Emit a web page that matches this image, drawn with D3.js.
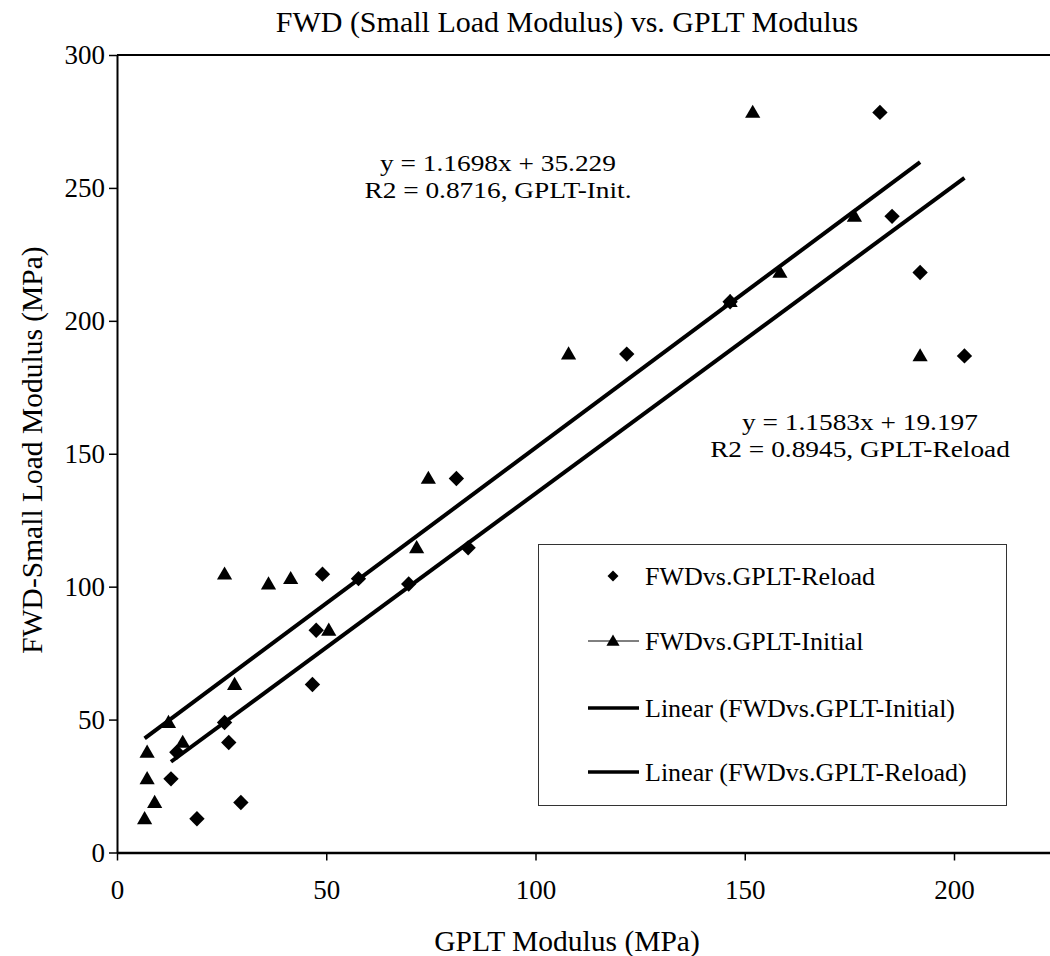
<!DOCTYPE html>
<html>
<head>
<meta charset="utf-8">
<script src="https://cdn.jsdelivr.net/npm/d3@7"></script>
<style>
  body { margin: 0; background: #fff; }
  svg text { font-family: "Liberation Serif", "Times New Roman", serif; fill: #000; }
</style>
</head>
<body>
<svg width="1050" height="956"></svg>
<script>
// FWD small-load modulus (MPa), shared by both series
const fwdValues = [12.7, 18.8, 27.7, 37.7, 41.4, 48.9, 63.2, 83.6, 101.0, 103.0, 104.7, 114.6, 140.7, 186.8, 187.5, 207.2, 218.2, 239.3, 278.4];
// GPLT modulus (MPa), same order as fwdValues
const gpltInitial = [6.6, 9.0, 7.2, 7.2, 15.7, 12.3, 28.1, 50.6, 36.2, 41.5, 25.7, 71.6, 74.4, 191.9, 107.9, 146.5, 158.4, 176.2, 151.9];
const gpltReload  = [19.1, 29.6, 12.9, 14.3, 26.7, 25.7, 46.7, 47.6, 69.7, 57.7, 49.1, 83.9, 81.1, 202.5, 121.8, 146.5, 191.9, 185.2, 182.3];

// trend line coefficients shown on the chart
const fitInitial = {slope: 1.1698, intercept: 35.229};
const fitReload  = {slope: 1.1583, intercept: 19.197};

const xTicks = [0, 50, 100, 150, 200];
const yTicks = [0, 50, 100, 150, 200, 250, 300];

const legendLabels = ["FWDvs.GPLT-Reload", "FWDvs.GPLT-Initial", "Linear (FWDvs.GPLT-Initial)", "Linear (FWDvs.GPLT-Reload)"];

const serif = "Liberation Serif";
const svg = d3.select("svg");

// scales (the plot runs past the right edge of the picture)
const x = d3.scaleLinear().domain([0, 225]).range([117, 117 + 225 * 4.185]);
const y = d3.scaleLinear().domain([0, 300]).range([852.5, 55]);

// title
svg.append("text")
  .attr("x", 567).attr("y", 32)
  .attr("text-anchor", "middle")
  .attr("font-family", serif)
  .style("font-size", "30px")
  .text("FWD (Small Load Modulus) vs. GPLT Modulus");

// top border line at 300
svg.append("line")
  .attr("x1", x(0)).attr("x2", 1050)
  .attr("y1", y(300)).attr("y2", y(300))
  .attr("stroke", "#000").attr("stroke-width", 2);

// x axis
const xAxis = svg.append("g")
  .attr("transform", `translate(0,${y(0)})`)
  .call(d3.axisBottom(x).tickValues(xTicks).tickSize(8).tickSizeOuter(0).tickPadding(19));
xAxis.select(".domain").attr("stroke-width", 2.5);
xAxis.selectAll(".tick line").attr("stroke-width", 1.5);
xAxis.selectAll("text").attr("font-family", serif).style("font-size", "27px");

// y axis
const yAxis = svg.append("g")
  .attr("transform", `translate(${x(0)},0)`)
  .call(d3.axisLeft(y).tickValues(yTicks).tickSize(8).tickSizeOuter(0).tickPadding(4));
yAxis.select(".domain").attr("stroke-width", 2);
yAxis.selectAll(".tick line").attr("stroke-width", 1.5);
yAxis.selectAll("text").attr("font-family", serif).style("font-size", "27px");

// axis titles
svg.append("text")
  .attr("x", 567).attr("y", 951)
  .attr("text-anchor", "middle")
  .attr("font-family", serif)
  .style("font-size", "29.5px")
  .text("GPLT Modulus (MPa)");

svg.append("text")
  .attr("transform", `translate(42,450) rotate(-90)`)
  .attr("text-anchor", "middle")
  .attr("font-family", serif)
  .style("font-size", "29.5px")
  .text("FWD-Small Load Modulus (MPa)");

// markers
const diamond = d3.symbol(d3.symbolSquare, 118);
const triangle = d3.symbol(d3.symbolTriangle, 100);

const reloadPts = gpltReload.map((g, i) => ({x: g, y: fwdValues[i]}));
const initialPts = gpltInitial.map((g, i) => ({x: g, y: fwdValues[i]}));

svg.append("g").selectAll("path")
  .data(reloadPts)
  .join("path")
  .attr("d", diamond)
  .attr("transform", d => `translate(${x(d.x)},${y(d.y)}) rotate(45)`)
  .attr("fill", "#000");

svg.append("g").selectAll("path")
  .data(initialPts)
  .join("path")
  .attr("d", triangle)
  .attr("transform", d => `translate(${x(d.x)},${y(d.y) + 1})`)
  .attr("fill", "#000");

// trend lines over each series' x range
const trend = (pts, fit) => {
  const [x0, x1] = d3.extent(pts, d => d.x);
  return [x0, x1].map(v => [x(v), y(fit.slope * v + fit.intercept)]);
};
svg.append("path")
  .attr("d", d3.line()(trend(initialPts, fitInitial)))
  .attr("stroke", "#000").attr("stroke-width", 4).attr("fill", "none");
svg.append("path")
  .attr("d", d3.line()(trend(reloadPts, fitReload)))
  .attr("stroke", "#000").attr("stroke-width", 4).attr("fill", "none");

// equation labels, a little wide like the reference
const eqLabel = (cx, cy, lines) => {
  lines.forEach((t, i) => {
    svg.append("text")
      .attr("transform", `translate(${cx},${cy + i * 27}) scale(1.14,1)`)
      .attr("text-anchor", "middle")
      .attr("font-family", serif)
      .style("font-size", "24px")
      .text(t);
  });
};
eqLabel(498, 171, ["y = 1.1698x + 35.229", "R2 = 0.8716, GPLT-Init."]);
eqLabel(860, 430, ["y = 1.1583x + 19.197", "R2 = 0.8945, GPLT-Reload"]);

// legend
const legend = svg.append("g");
legend.append("rect")
  .attr("x", 538.5).attr("y", 544.5)
  .attr("width", 468).attr("height", 261)
  .attr("fill", "#fff").attr("stroke", "#333").attr("stroke-width", 1);

const rowY = [576, 641, 708, 772];
const rows = legend.selectAll("g.row")
  .data(legendLabels)
  .join("g")
  .attr("class", "row")
  .attr("transform", (d, i) => `translate(0,${rowY[i]})`);

rows.append("text")
  .attr("x", 645).attr("y", 0).attr("dy", "0.35em")
  .attr("font-family", serif)
  .style("font-size", "26px")
  .text(d => d);

rows.filter((d, i) => i === 0).append("path")
  .attr("d", d3.symbol(d3.symbolSquare, 60))
  .attr("transform", "translate(613,0) rotate(45)");

rows.filter((d, i) => i === 1).append("line")
  .attr("x1", 588).attr("x2", 639).attr("stroke", "#000").attr("stroke-width", 1);
rows.filter((d, i) => i === 1).append("path")
  .attr("d", d3.symbol(d3.symbolTriangle, 75))
  .attr("transform", "translate(613,1)");

rows.filter((d, i) => i >= 2).append("line")
  .attr("x1", 588).attr("x2", 639).attr("stroke", "#000").attr("stroke-width", 3.5);
</script>
</body>
</html>
